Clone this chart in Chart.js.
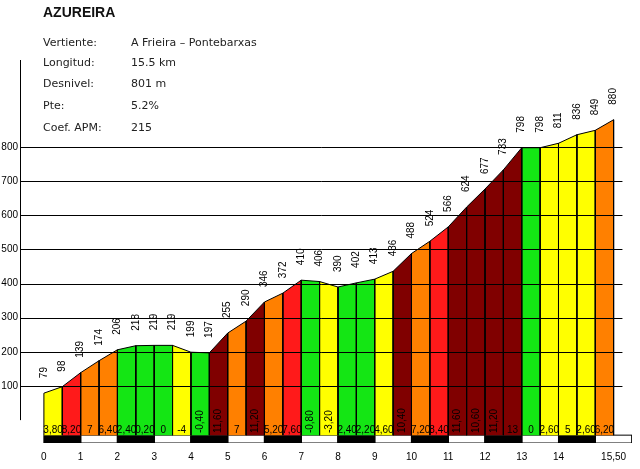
<!DOCTYPE html>
<html>
<head>
<meta charset="utf-8">
<style>
    body { margin: 0; background: #fff; }
    #wrap { position: relative; width: 640px; height: 469px; }
    #title { position: absolute; left: 43px; top: 4px; font: bold 14px "Liberation Sans"; color: #111; }
    .row { position: absolute; left: 43px; font: 11px "DejaVu Sans"; color: #222; line-height: 14px; }
    .row span { position: absolute; left: 88px; white-space: nowrap; }
</style>
</head>
<body>
<div id="wrap">
    <canvas id="chart_id" width="640" height="469"></canvas>
    <div id="title">AZUREIRA</div>
    <div class="row" style="top:36px">Vertiente:<span>A Frieira – Pontebarxas</span></div>
    <div class="row" style="top:56px">Longitud:<span>15.5 km</span></div>
    <div class="row" style="top:77px">Desnivel:<span>801 m</span></div>
    <div class="row" style="top:99px">Pte:<span>5.2%</span></div>
    <div class="row" style="top:121px">Coef. APM:<span>215</span></div>
</div>
<script src="https://cdn.jsdelivr.net/npm/chart.js"></script>
<script>
    // distance (km) of each profile point and its altitude (m)
    const km = [0, 0.5, 1, 1.5, 2, 2.5, 3, 3.5, 4, 4.5, 5, 5.5, 6, 6.5, 7, 7.5,
                8, 8.5, 9, 9.5, 10, 10.5, 11, 11.5, 12, 12.5, 13, 13.5, 14, 14.5, 15, 15.5];
    const altitudes = [79, 98, 139, 174, 206, 218, 219, 219, 199, 197, 255, 290, 346, 372, 410, 406,
                       390, 402, 413, 436, 488, 524, 566, 624, 677, 733, 798, 798, 811, 836, 849, 880];
    // gradient (%) of each half-km segment
    const grades = [3.8, 8.2, 7, 6.4, 2.4, 0.2, 0, -4, -0.4, 11.6, 7, 11.2, 5.2, 7.6, -0.8,
                    -3.2, 2.4, 2.2, 4.6, 10.4, 7.2, 8.4, 11.6, 10.6, 11.2, 13, 0, 2.6, 5, 2.6, 6.2];
    const kmTicks = [0, 1, 2, 3, 4, 5, 6, 7, 8, 9, 10, 11, 12, 13, 14, 15.5];
    const altTicks = [100, 200, 300, 400, 500, 600, 700, 800];

    const BASE = -44;       // bottom of the coloured bars
    const STRIP_BOT = -67;  // bottom of the km strip
    const GRADE_Y = -38;    // where the gradient labels sit
    const GRID_END = 15.74; // gridlines stop here (km)

    function gradeColor(g) {
        const a = Math.abs(g);
        if (a < 2.5) return '#14e614';
        if (a <= 5) return '#ffff00';
        if (a < 7.5) return '#ff8000';
        if (a < 10) return '#ff1a1a';
        return '#800000';
    }

    function fmtGrade(g) {
        return Number.isInteger(g) ? String(g) : g.toFixed(2).replace('.', ',');
    }

    const datasets = [];
    // one closed shape for each segment
    grades.forEach((g, i) => {
        datasets.push({
            data: [
                { x: km[i], y: BASE }, { x: km[i], y: altitudes[i] },
                { x: km[i + 1], y: altitudes[i + 1] }, { x: km[i + 1], y: BASE }
            ],
            showLine: true, fill: 'shape',
            backgroundColor: gradeColor(g), borderColor: '#000', borderWidth: 1,
            pointRadius: 0, tension: 0
        });
    });
    // black / white km strip
    for (let k = 0; k < 16; k++) {
        datasets.push({
            data: [
                { x: k, y: BASE }, { x: k + 1, y: BASE }, { x: k + 1, y: STRIP_BOT },
                { x: k, y: STRIP_BOT }, { x: k, y: BASE }
            ],
            showLine: true, fill: 'shape',
            backgroundColor: k % 2 === 0 ? '#000' : '#fff', borderColor: '#000', borderWidth: 1,
            pointRadius: 0, tension: 0
        });
    }

    const labelPlugin = {
        id: 'profileLabels',
        afterDatasetsDraw(chart) {
            const { ctx, chartArea, scales: { x, y } } = chart;
            ctx.save();
            ctx.strokeStyle = '#000';
            ctx.lineWidth = 1;
            // y axis line, from 0 m up
            ctx.beginPath();
            ctx.moveTo(chartArea.left + 0.5, y.getPixelForValue(0));
            ctx.lineTo(chartArea.left + 0.5, chartArea.top);
            ctx.stroke();
            // horizontal gridlines over the profile
            altTicks.forEach(v => {
                const py = Math.round(y.getPixelForValue(v)) + 0.5;
                ctx.beginPath();
                ctx.moveTo(chartArea.left, py);
                ctx.lineTo(x.getPixelForValue(GRID_END), py);
                ctx.stroke();
            });
            ctx.restore();
        },
        afterDraw(chart) {
            const { ctx, scales: { x, y } } = chart;
            ctx.save();
            ctx.font = '10px "Liberation Sans"';
            ctx.fillStyle = '#000';
            altitudes.forEach((alt, i) => {
                ctx.save();
                ctx.translate(x.getPixelForValue(km[i]), y.getPixelForValue(alt) - 15);
                ctx.rotate(-Math.PI / 2);
                ctx.textAlign = 'left';
                ctx.textBaseline = 'middle';
                ctx.fillText(String(alt), 0, 0);
                ctx.restore();
            });
            grades.forEach((g, i) => {
                const txt = fmtGrade(g);
                const px = x.getPixelForValue((km[i] + km[i + 1]) / 2);
                const py = y.getPixelForValue(GRADE_Y);
                ctx.save();
                if (txt.length >= 5) {
                    ctx.translate(px, py);
                    ctx.rotate(-Math.PI / 2);
                    ctx.textAlign = 'left';
                    ctx.textBaseline = 'middle';
                    ctx.fillText(txt, 0, 0);
                } else {
                    ctx.textAlign = 'center';
                    ctx.textBaseline = 'alphabetic';
                    ctx.fillText(txt, px, py);
                }
                ctx.restore();
            });
            ctx.restore();
        }
    };

    new Chart(document.getElementById('chart_id'), {
        type: 'scatter',
        data: { datasets: datasets },
        plugins: [labelPlugin],
        options: {
            responsive: false,
            animation: false,
            layout: { padding: { top: 60, right: 8, left: 0, bottom: 0 } },
            plugins: { legend: { display: false }, tooltip: { enabled: false } },
            scales: {
                x: {
                    type: 'linear', min: -0.65, max: 16,
                    afterBuildTicks: s => { s.ticks = kmTicks.map(v => ({ value: v })); },
                    afterFit: s => { s.height = 26; },
                    grid: { display: false, drawTicks: false },
                    border: { display: false },
                    ticks: {
                        autoSkip: false, maxRotation: 0, padding: 8, color: '#000',
                        font: { family: 'Liberation Sans', size: 10 },
                        callback: v => v === 15.5 ? '15,50' : String(v)
                    }
                },
                y: {
                    type: 'linear', min: STRIP_BOT, max: 1055,
                    afterBuildTicks: s => { s.ticks = altTicks.map(v => ({ value: v })); },
                    afterFit: s => { s.width = 20; },
                    grid: { display: false, drawTicks: false },
                    border: { display: false },
                    ticks: {
                        padding: 2, color: '#000',
                        font: { family: 'Liberation Sans', size: 10 }
                    }
                }
            }
        }
    });
</script>
</body>
</html>
